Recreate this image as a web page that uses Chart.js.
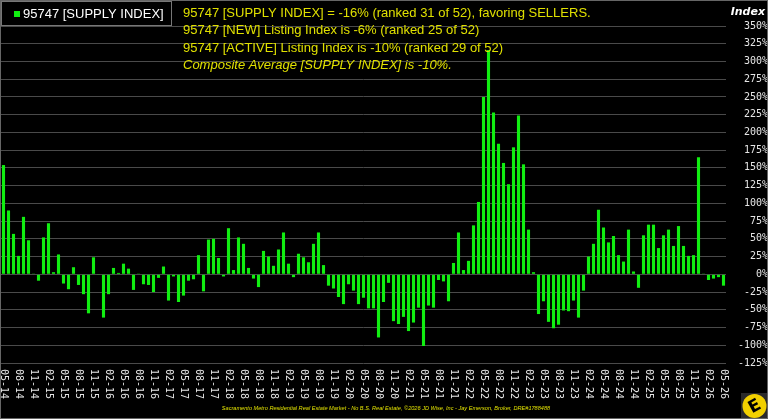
<!DOCTYPE html>
<html>
<head>
<meta charset="utf-8">
<script src="https://cdn.jsdelivr.net/npm/chart.js@4/dist/chart.umd.min.js"></script>
<style>
  html, body { margin: 0; padding: 0; background: #000; }
  #wrap { width: 768px; height: 419px; }
</style>
</head>
<body>
<div id="wrap"><canvas id="barChart"></canvas></div>
<script>
// months, 05-14 .. 05-26
var bulan = [
  '05-14','06-14','07-14','08-14','09-14','10-14','11-14','12-14',
  '01-15','02-15','03-15','04-15','05-15','06-15','07-15','08-15','09-15','10-15','11-15','12-15',
  '01-16','02-16','03-16','04-16','05-16','06-16','07-16','08-16','09-16','10-16','11-16','12-16',
  '01-17','02-17','03-17','04-17','05-17','06-17','07-17','08-17','09-17','10-17','11-17','12-17',
  '01-18','02-18','03-18','04-18','05-18','06-18','07-18','08-18','09-18','10-18','11-18','12-18',
  '01-19','02-19','03-19','04-19','05-19','06-19','07-19','08-19','09-19','10-19','11-19','12-19',
  '01-20','02-20','03-20','04-20','05-20','06-20','07-20','08-20','09-20','10-20','11-20','12-20',
  '01-21','02-21','03-21','04-21','05-21','06-21','07-21','08-21','09-21','10-21','11-21','12-21',
  '01-22','02-22','03-22','04-22','05-22','06-22','07-22','08-22','09-22','10-22','11-22','12-22',
  '01-23','02-23','03-23','04-23','05-23','06-23','07-23','08-23','09-23','10-23','11-23','12-23',
  '01-24','02-24','03-24','04-24','05-24','06-24','07-24','08-24','09-24','10-24','11-24','12-24',
  '01-25','02-25','03-25','04-25','05-25','06-25','07-25','08-25','09-25','10-25','11-25','12-25',
  '01-26','02-26','03-26','04-26','05-26'
];

// supply index in %
var supply_index = [
  154, 90, 57, 26, 81, 48, 1, -9,
  52, 72, 3, 28, -13, -21, 10, -15, -28, -55, 24, -1,
  -61, -28, 9, 2, 15, 8, -22, 1, -14, -15, -25, -5,
  11, -37, -3, -39, -30, -9, -7, 27, -24, 49, 50, 23,
  -3, 65, 6, 52, 43, 9, -6, -18, 33, 25, 12, 35,
  59, 15, -4, 29, 24, 17, 43, 59, 13, -16, -20, -32,
  -42, -14, -23, -42, -33, -48, -48, -89, -39, -12, -66, -70,
  -60, -80, -68, -47, -101, -44, -47, -8, -10, -38, 16, 59,
  6, 19, 69, 102, 250, 316, 228, 184, 157, 127, 179, 224,
  155, 63, 3, -56, -38, -67, -76, -71, -51, -52, -37, -61,
  -23, 25, 43, 91, 66, 45, 54, 27, 18, 63, 4, -19,
  55, 70, 70, 37, 55, 63, 40, 68, 40, 26, 27, 165,
  1, -8, -6, -4, -16
];

var judul_seri = '95747 [SUPPLY INDEX]';
var teks_info = [
  '95747 [SUPPLY INDEX] = -16% (ranked 31 of 52), favoring SELLERS.',
  '95747 [NEW] Listing Index is -6% (ranked 25 of 52)',
  '95747 [ACTIVE] Listing Index is -10% (ranked 29 of 52)',
  'Composite Average [SUPPLY INDEX] is -10%.'
];
var teks_footer = 'Sacramento Metro Residential Real Estate Market - No B.S. Real Estate, \u00a92026 JD Wise, Inc - Jay Emerson, Broker, DRE#1788488';
var y_min = -125;
var y_max = 350;
var y_step = 25;

var hijau = '#11ee11';
var kuning = '#e0e000';

//-------------
//- PLUGINS -
//-------------
var latar = {
  id: 'latar',
  beforeDraw: function (chart) {
    var ctx = chart.ctx;
    ctx.save();
    ctx.fillStyle = '#000';
    ctx.fillRect(0, 0, chart.width, chart.height);
    ctx.restore();
  }
};

var hiasan = {
  id: 'hiasan',
  afterDraw: function (chart) {
    var ctx = chart.ctx;
    var xs = chart.scales.x;
    ctx.save();

    // x labels, every 3rd month, rotated clockwise
    ctx.fillStyle = '#e6e6e6';
    ctx.font = '10px "DejaVu Sans Mono"';
    ctx.textAlign = 'left';
    ctx.textBaseline = 'middle';
    for (var i = 0; i < bulan.length; i += 3) {
      var px = xs.getPixelForValue(i);
      ctx.save();
      ctx.translate(px, 369);
      ctx.rotate(Math.PI / 2);
      ctx.fillText(bulan[i], 0, 0);
      ctx.restore();
    }

    // legend box
    ctx.fillStyle = '#000';
    ctx.fillRect(1.5, 1.5, 170, 24);
    ctx.strokeStyle = '#777';
    ctx.lineWidth = 1;
    ctx.strokeRect(1.5, 1.5, 170, 24);
    ctx.fillStyle = hijau;
    ctx.fillRect(14, 11, 6, 6);
    ctx.fillStyle = '#fff';
    ctx.font = '13px "Liberation Sans", Arial';
    ctx.textBaseline = 'middle';
    ctx.fillText(judul_seri, 23, 14);

    // info text
    ctx.fillStyle = kuning;
    for (var j = 0; j < teks_info.length; j++) {
      ctx.font = (j === 3 ? 'italic ' : '') + '13px "Liberation Sans", Arial';
      ctx.fillText(teks_info[j], 183, 13 + j * 17.6);
    }

    // axis title
    ctx.fillStyle = '#fff';
    ctx.font = 'italic bold 11px "DejaVu Sans", Arial';
    ctx.textAlign = 'right';
    ctx.fillText('Index', 765, 12);

    // footer
    ctx.fillStyle = kuning;
    ctx.font = 'italic 5.6px "Liberation Sans", Arial';
    ctx.textAlign = 'center';
    ctx.fillText(teks_footer, 386, 408);

    // logo
    ctx.fillStyle = '#2a2a2a';
    ctx.fillRect(741, 393, 27, 26);
    ctx.beginPath();
    ctx.arc(754.5, 406, 12, 0, Math.PI * 2);
    ctx.fillStyle = '#f2d000';
    ctx.fill();
    ctx.save();
    ctx.translate(754.5, 406);
    ctx.rotate(-0.5);
    ctx.fillStyle = '#000';
    ctx.font = 'bold 17px "DejaVu Sans", Arial';
    ctx.textAlign = 'center';
    ctx.textBaseline = 'middle';
    ctx.fillText('E', 0, 1);
    ctx.restore();

    // outer frame
    ctx.strokeStyle = '#666';
    ctx.strokeRect(0.5, 0.5, chart.width - 1, chart.height - 1);
    ctx.restore();
  }
};

var barChartData = {
  labels: bulan,
  datasets: [
    {
      label: judul_seri,
      data: supply_index,
      backgroundColor: hijau,
      borderWidth: 0,
      barPercentage: 0.62,
      categoryPercentage: 1.0
    }
  ]
};

var barChartOptions = {
  responsive: true,
  maintainAspectRatio: false,
  animation: false,
  layout: { padding: { top: 26, left: 1, right: 0, bottom: 0 } },
  plugins: {
    legend: { display: false },
    tooltip: { enabled: false }
  },
  scales: {
    x: {
      grid: { display: false },
      border: { display: false },
      ticks: { display: false },
      afterFit: function (scale) { scale.height = 56; }
    },
    y: {
      position: 'right',
      min: y_min,
      max: y_max,
      border: { display: false },
      grid: { color: '#4a4a4a', lineWidth: 1, drawTicks: false },
      ticks: {
        stepSize: y_step,
        color: '#e6e6e6',
        crossAlign: 'far',
        padding: 9,
        font: { family: 'DejaVu Sans Mono', size: 10 },
        callback: function (v) { return v + '%'; }
      },
      afterFit: function (scale) { scale.width = 42; }
    }
  }
};

function chartOption() {
  var barChartCanvas = document.getElementById('barChart').getContext('2d');
  new Chart(barChartCanvas, {
    type: 'bar',
    data: barChartData,
    options: barChartOptions,
    plugins: [latar, hiasan]
  });
}
chartOption();
</script>
</body>
</html>
